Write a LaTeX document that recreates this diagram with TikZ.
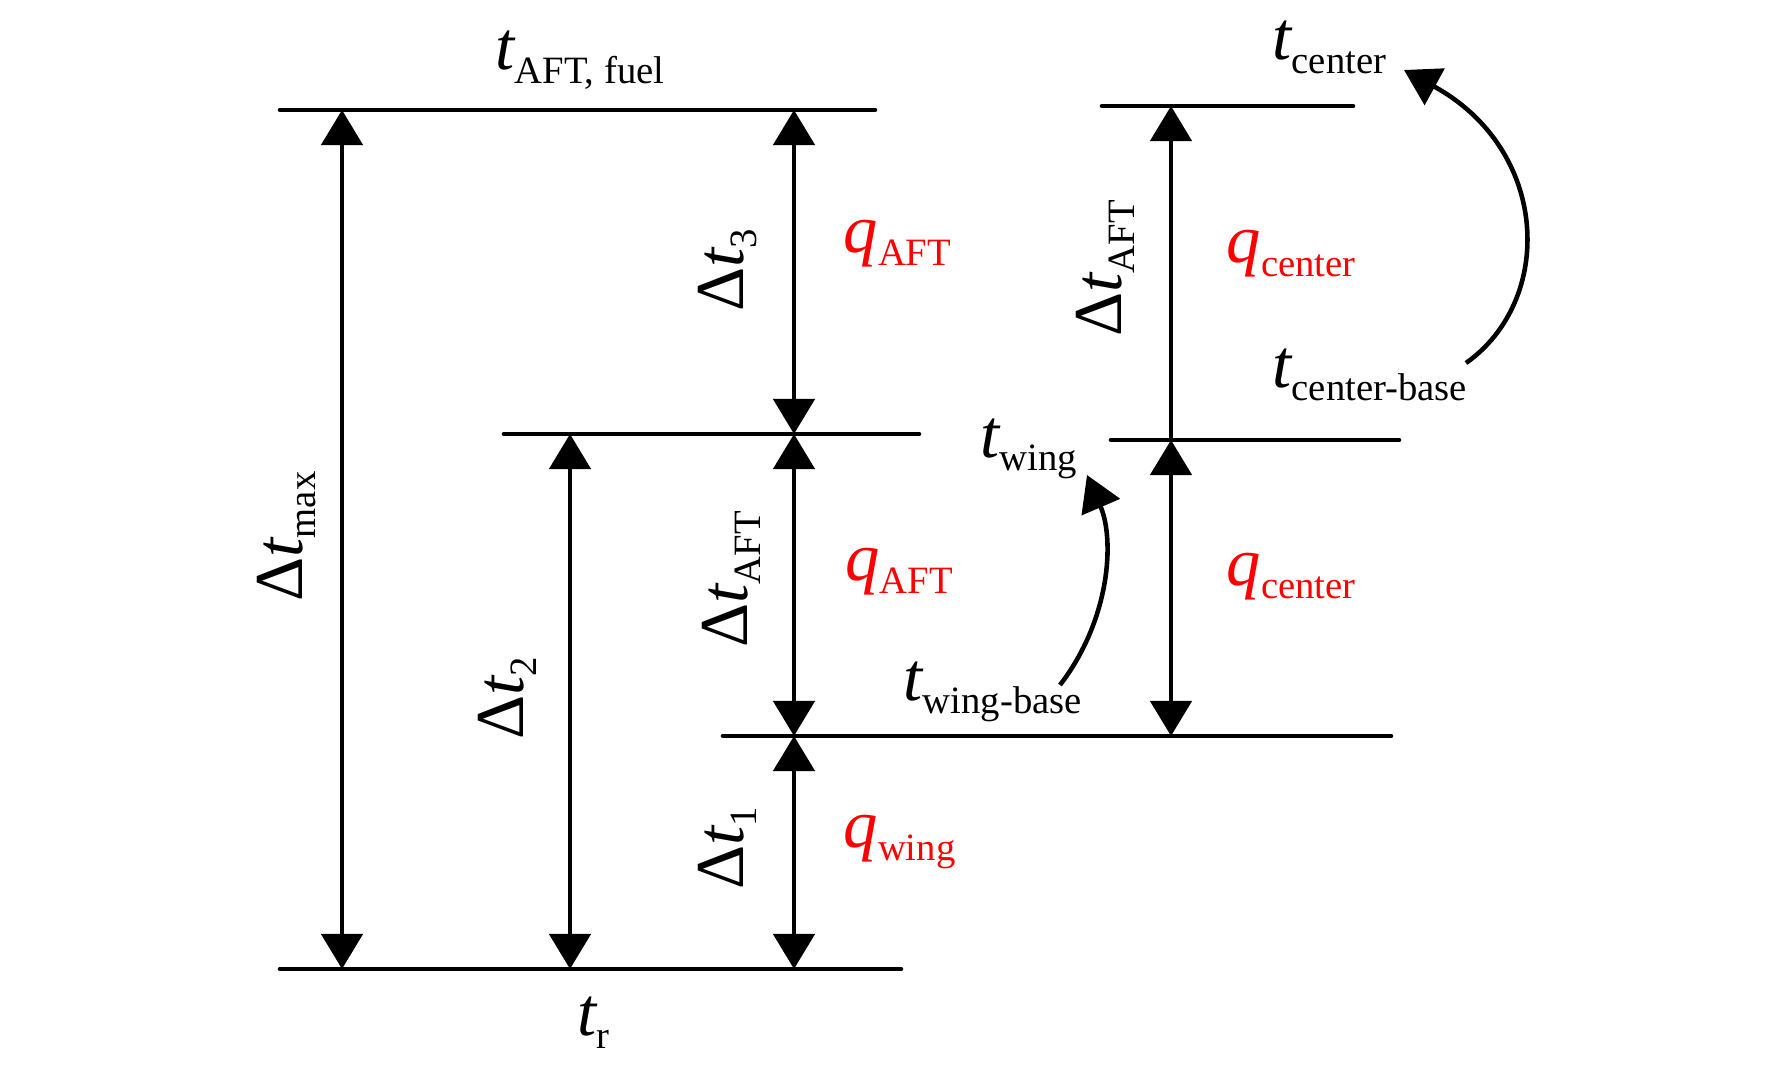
\documentclass[tikz,border=0pt]{standalone}
\usepackage{fontspec}
\setmainfont{Liberation Serif}
\usetikzlibrary{arrows.meta}
% italic symbol with a lowered upright subscript
\newcommand{\tsym}[2]{{\fontsize{19.5}{20}\selectfont\itshape #1}\raisebox{-3.7pt}{\fontsize{11}{12}\selectfont #2}}
\newcommand{\dtsym}[2]{{\fontsize{19.5}{20}\selectfont\upshape Δ}\tsym{#1}{#2}}
\tikzset{
  lvline/.style={line width=1.3pt, line cap=round},
  dimarr/.style={line width=1.3pt, <->},
  onearr/.style={line width=1.3pt, ->},
  bendarr/.style={line width=1.3pt, ->},
  lbl/.style={inner sep=0pt, anchor=base west},
  heat/.style={lbl, text=red},
}
\begin{document}
\begin{tikzpicture}[x=0.01cm, y=-0.01cm, >={Triangle[length=3.5mm,width=4.1mm]}]
\useasboundingbox (0,0) rectangle (1772,1070);
% levels
\coordinate (fuelL) at (280,110);   \coordinate (fuelR) at (875,110);
\coordinate (wingL) at (504,434);   \coordinate (wingR) at (919,434);
\coordinate (ctrL) at (1102,106);   \coordinate (ctrR) at (1353,106);
\coordinate (cbaseL) at (1111,440); \coordinate (cbaseR) at (1399,440);
\coordinate (wbaseL) at (723,736);  \coordinate (wbaseR) at (1391,736);
\coordinate (refL) at (280,969);    \coordinate (refR) at (901,969);
\draw[lvline] (fuelL) -- (fuelR);
\draw[lvline] (wingL) -- (wingR);
\draw[lvline] (ctrL) -- (ctrR);
\draw[lvline] (cbaseL) -- (cbaseR);
\draw[lvline] (wbaseL) -- (wbaseR);
\draw[lvline] (refL) -- (refR);
% arrow ends
\coordinate (maxA) at (342,110); \coordinate (maxB) at (342,969);
\coordinate (twoA) at (570,434); \coordinate (twoB) at (570,969);
\coordinate (midA) at (794,110); \coordinate (midB) at (794,434);
\coordinate (midC) at (794,736); \coordinate (midD) at (794,969);
\coordinate (rgtA) at (1171,106); \coordinate (rgtB) at (1171,440);
\coordinate (rgtC) at (1171,736);
\draw[dimarr] (maxA) -- (maxB);
\draw[dimarr] (twoA) -- (twoB);
\draw[dimarr] (midA) -- (midB);
\draw[dimarr] (midB) -- (midC);
\draw[dimarr] (midC) -- (midD);
\draw[onearr] (rgtB) -- (rgtA);
\draw[dimarr] (rgtB) -- (rgtC);
% shifts
\coordinate (cbStart) at (1466,363); \coordinate (cTip) at (1404,70);
\coordinate (wbStart) at (1060,685); \coordinate (wTip) at (1087,475);
\draw[bendarr] (cbStart) .. controls (1555,300) and (1550,150) .. (cTip);
\draw[bendarr] (wbStart) .. controls (1110,620) and (1115,540) .. (wTip);
% temperatures
\node[lbl] (tFuel) at (495,70) {\tsym{t}{AFT, fuel}};
\node[lbl] (tCenter) at (1272,60) {\tsym{t}{center}};
\node[lbl] (tCenterBase) at (1272,387) {\tsym{t}{center-base}};
\node[lbl] (tWing) at (980,457) {\tsym{t}{wing}};
\node[lbl] (tWingBase) at (903,700) {\tsym{t}{wing-base}};
\node[lbl] (tR) at (577,1035) {\tsym{t}{r}};
% heat flows
\node[heat] (qAftTop) at (843,252) {\tsym{q}{AFT}};
\node[heat] (qAftMid) at (845,580) {\tsym{q}{AFT}};
\node[heat] (qWing) at (843,847) {\tsym{q}{wing}};
\node[heat] (qCenterTop) at (1226,263) {\tsym{q}{center}};
\node[heat] (qCenterLow) at (1226,585) {\tsym{q}{center}};
% intervals
\node[lbl, rotate=90] (dtMax) at (302,602) {\dtsym{t}{max}};
\node[lbl, rotate=90] (dtTwo) at (523,740) {\dtsym{t}{2}};
\node[lbl, rotate=90] (dtThree) at (743,312) {\dtsym{t}{3}};
\node[lbl, rotate=90] (dtAftMid) at (747,648) {\dtsym{t}{AFT}};
\node[lbl, rotate=90] (dtOne) at (743,890) {\dtsym{t}{1}};
\node[lbl, rotate=90] (dtAftRight) at (1121,337) {\dtsym{t}{AFT}};
\end{tikzpicture}
\end{document}
